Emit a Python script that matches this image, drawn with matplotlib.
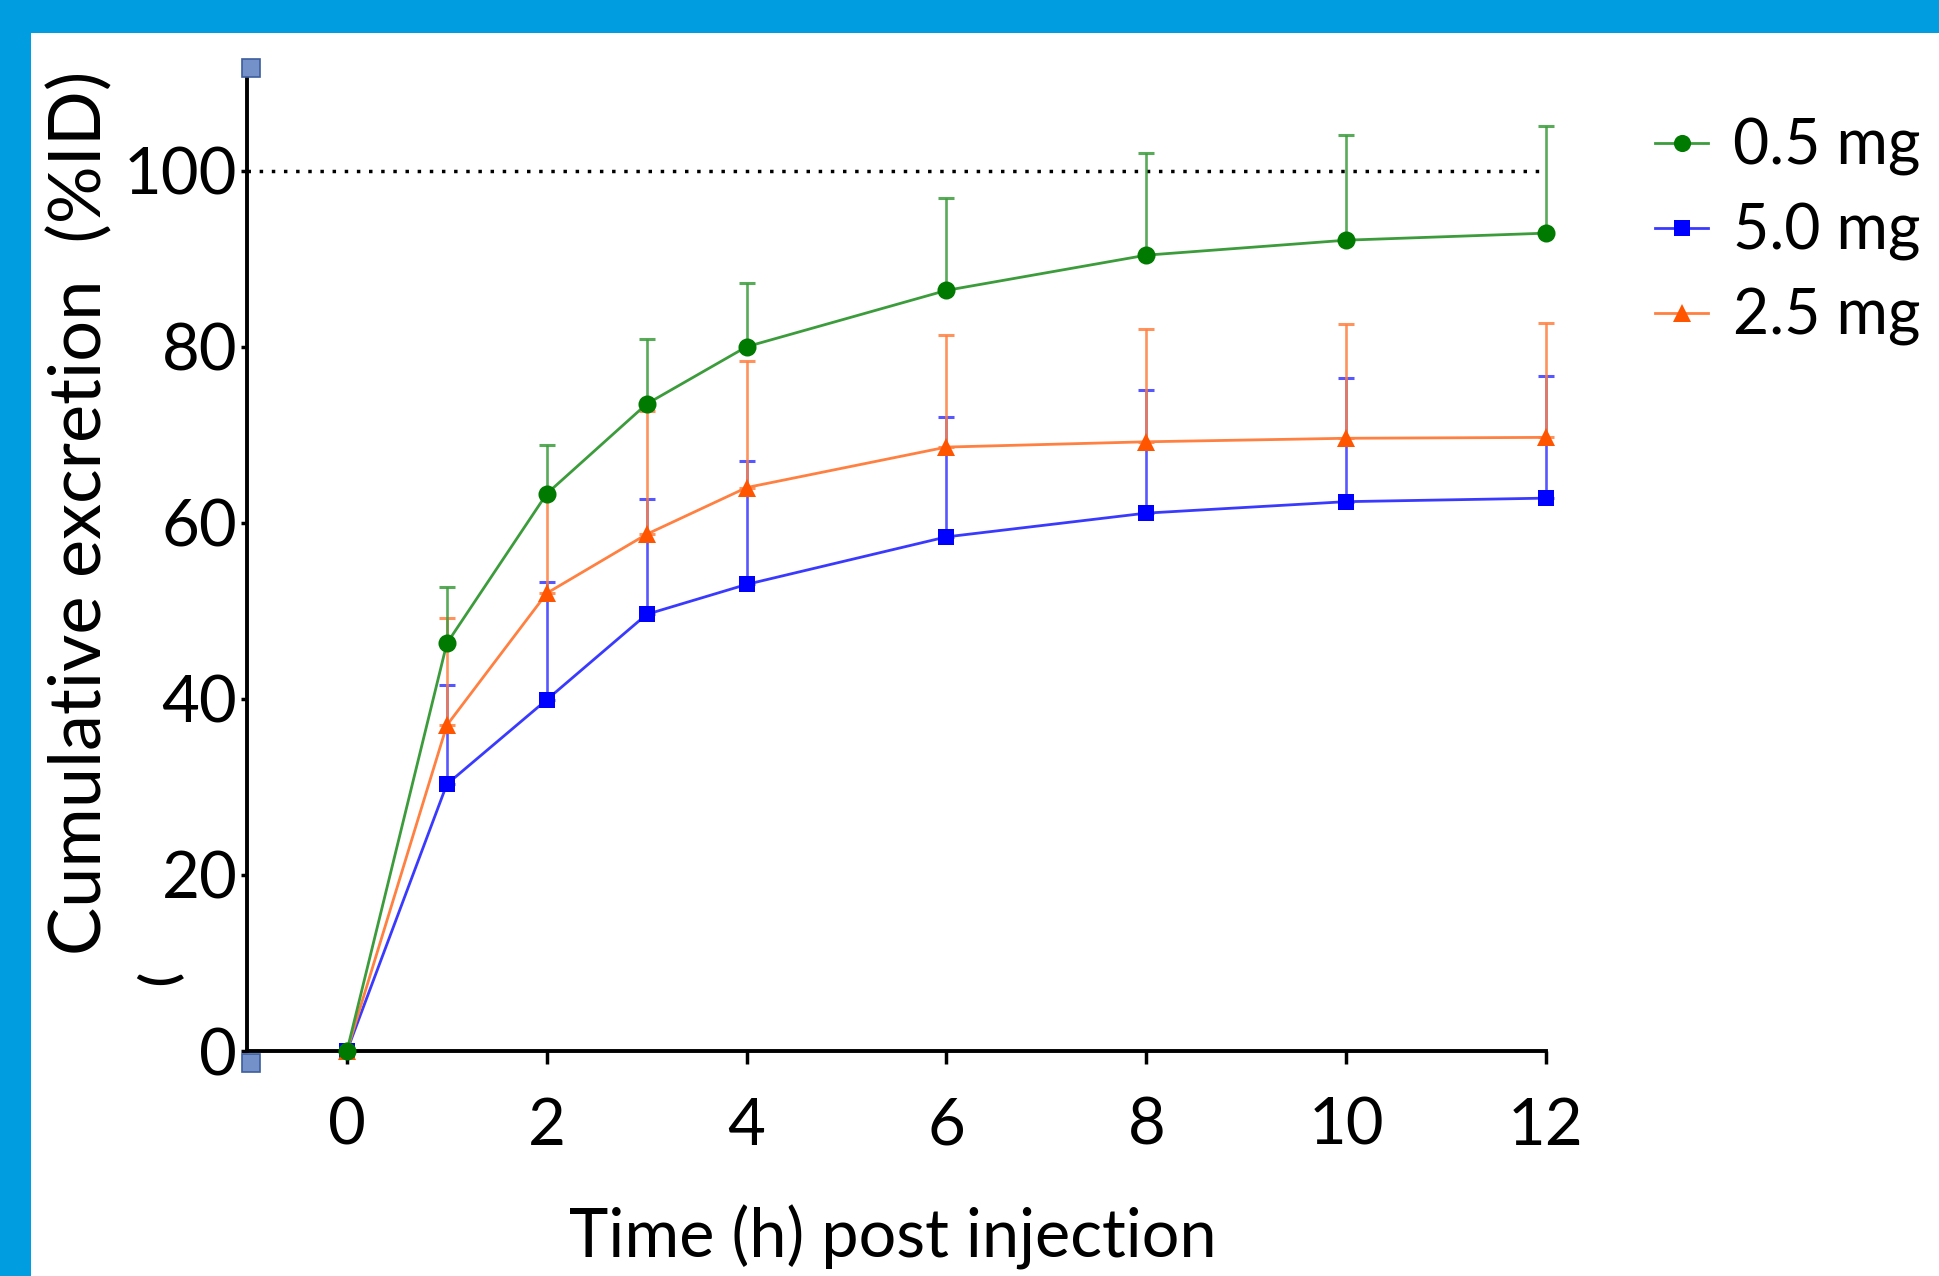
import matplotlib
matplotlib.use("Agg")
import matplotlib.pyplot as plt
from matplotlib.patches import Rectangle
from matplotlib.lines import Line2D

# ---------------- data ----------------
hours = [0, 1, 2, 3, 4, 6, 8, 10, 12]
labels = ["0.5 mg", "5.0 mg", "2.5 mg"]
mean_05 = [0, 46.3, 63.3, 73.5, 80.0, 86.4, 90.4, 92.1, 92.9]
sd_05 = [0, 6.4, 5.5, 7.4, 7.2, 10.5, 11.6, 12.0, 12.2]
mean_50 = [0, 30.3, 39.9, 49.6, 53.0, 58.4, 61.1, 62.4, 62.8]
sd_50 = [0, 11.3, 13.4, 13.1, 14.0, 13.6, 14.0, 14.1, 13.9]
mean_25 = [0, 37.0, 52.0, 58.7, 64.0, 68.6, 69.2, 69.6, 69.7]
sd_25 = [0, 12.2, 11.0, 14.0, 14.4, 12.7, 12.8, 13.0, 13.0]
xticks = [0, 2, 4, 6, 8, 10, 12]
yticks = [0, 20, 40, 60, 80, 100]

FONT = ["Lato", "DejaVu Sans"]
plt.rcParams["font.family"] = FONT

W, H = 1939, 1276
fig = plt.figure(figsize=(W / 100, H / 100), dpi=100)
fig.patch.set_facecolor("#009ee0")
fig.patches.append(Rectangle((31 / W, 0), 1 - 31 / W, 1 - 33 / H,
                             transform=fig.transFigure, facecolor="white",
                             edgecolor="none", zorder=-10))

ax = fig.add_axes([247 / W, 1 - 1051 / H, (1546 - 247) / W, (1051 - 65) / H])
ax.set_facecolor("none")
ax.set_zorder(2)

series = [
    (mean_05, sd_05, "o", "#007a00", "#3c9c3c", 13, 5),
    (mean_50, sd_50, "s", "#0000ff", "#3a3aff", 12, 3),
    (mean_25, sd_25, "^", "#ff5500", "#ff8040", 13, 4),
]
handles = []
for (m, s, mk, mc, lc, ms, z), lab in zip(series, labels):
    lo = [0] * len(s)
    eb = ax.errorbar(hours, m, yerr=[lo, s], fmt="none", ecolor=lc,
                     elinewidth=1.9, capsize=6, capthick=2.2, zorder=z, alpha=0.85)
    for child in eb.get_children():
        child.set_clip_on(False)
    ax.plot(hours, m, color=lc, lw=2.0, zorder=z + 0.1, clip_on=False)
    ax.plot(hours, m, linestyle="none", marker=mk, color=mc, markersize=ms,
            markeredgewidth=0, zorder=z + 0.2, clip_on=False)
    handles.append(Line2D([], [], color=lc, lw=2.0, marker=mk, markerfacecolor=mc,
                          markeredgewidth=0, markersize=ms * 0.95))

ax.axhline(100, color="black", lw=2.5, linestyle=(0, (1, 2.5)), zorder=1)

ax.set_xlim(-1, 12)
ax.set_ylim(0, 112)
ax.set_xticks(xticks)
ax.set_yticks(yticks)
for sp in ["top", "right"]:
    ax.spines[sp].set_visible(False)
for sp in ["left", "bottom"]:
    ax.spines[sp].set_linewidth(2.8)
    ax.spines[sp].set_color("black")
ax.tick_params(axis="x", direction="out", length=9, width=2.5, pad=24,
               labelsize=47, colors="black")
ax.tick_params(axis="y", direction="out", length=4, width=2.5, pad=3,
               labelsize=47, colors="black")

# selection-handle squares at the ends of the y axis
for yy in (1 - 68 / H, 1 - 1063 / H):
    fig.add_artist(Line2D([251 / W], [yy], transform=fig.transFigure, marker="s",
                          markersize=13, markerfacecolor="#7491c9",
                          markeredgecolor="#3d5d9c", markeredgewidth=1.2,
                          linestyle="none", zorder=10))

fig.text(80 / W, 1 - 513 / H, "Cumulative excretion  (%ID)", rotation=90,
         ha="center", va="center", fontsize=52)
fig.text(160 / W, 1 - 978 / H, "(", rotation=90, ha="center", va="center",
         fontsize=36, fontweight="bold")
fig.text(893 / W, 1 - 1237 / H, "Time (h) post injection", ha="center",
         va="center", fontsize=48)

ax.legend(handles, labels, loc="upper left",
          bbox_to_anchor=(1655 / W, 1 - 118 / H), bbox_transform=fig.transFigure,
          frameon=False, fontsize=45, handlelength=0.85, handletextpad=0.4,
          labelspacing=0.42, borderpad=0, borderaxespad=0)

fig.savefig("out.png", dpi=100, facecolor=fig.get_facecolor())
